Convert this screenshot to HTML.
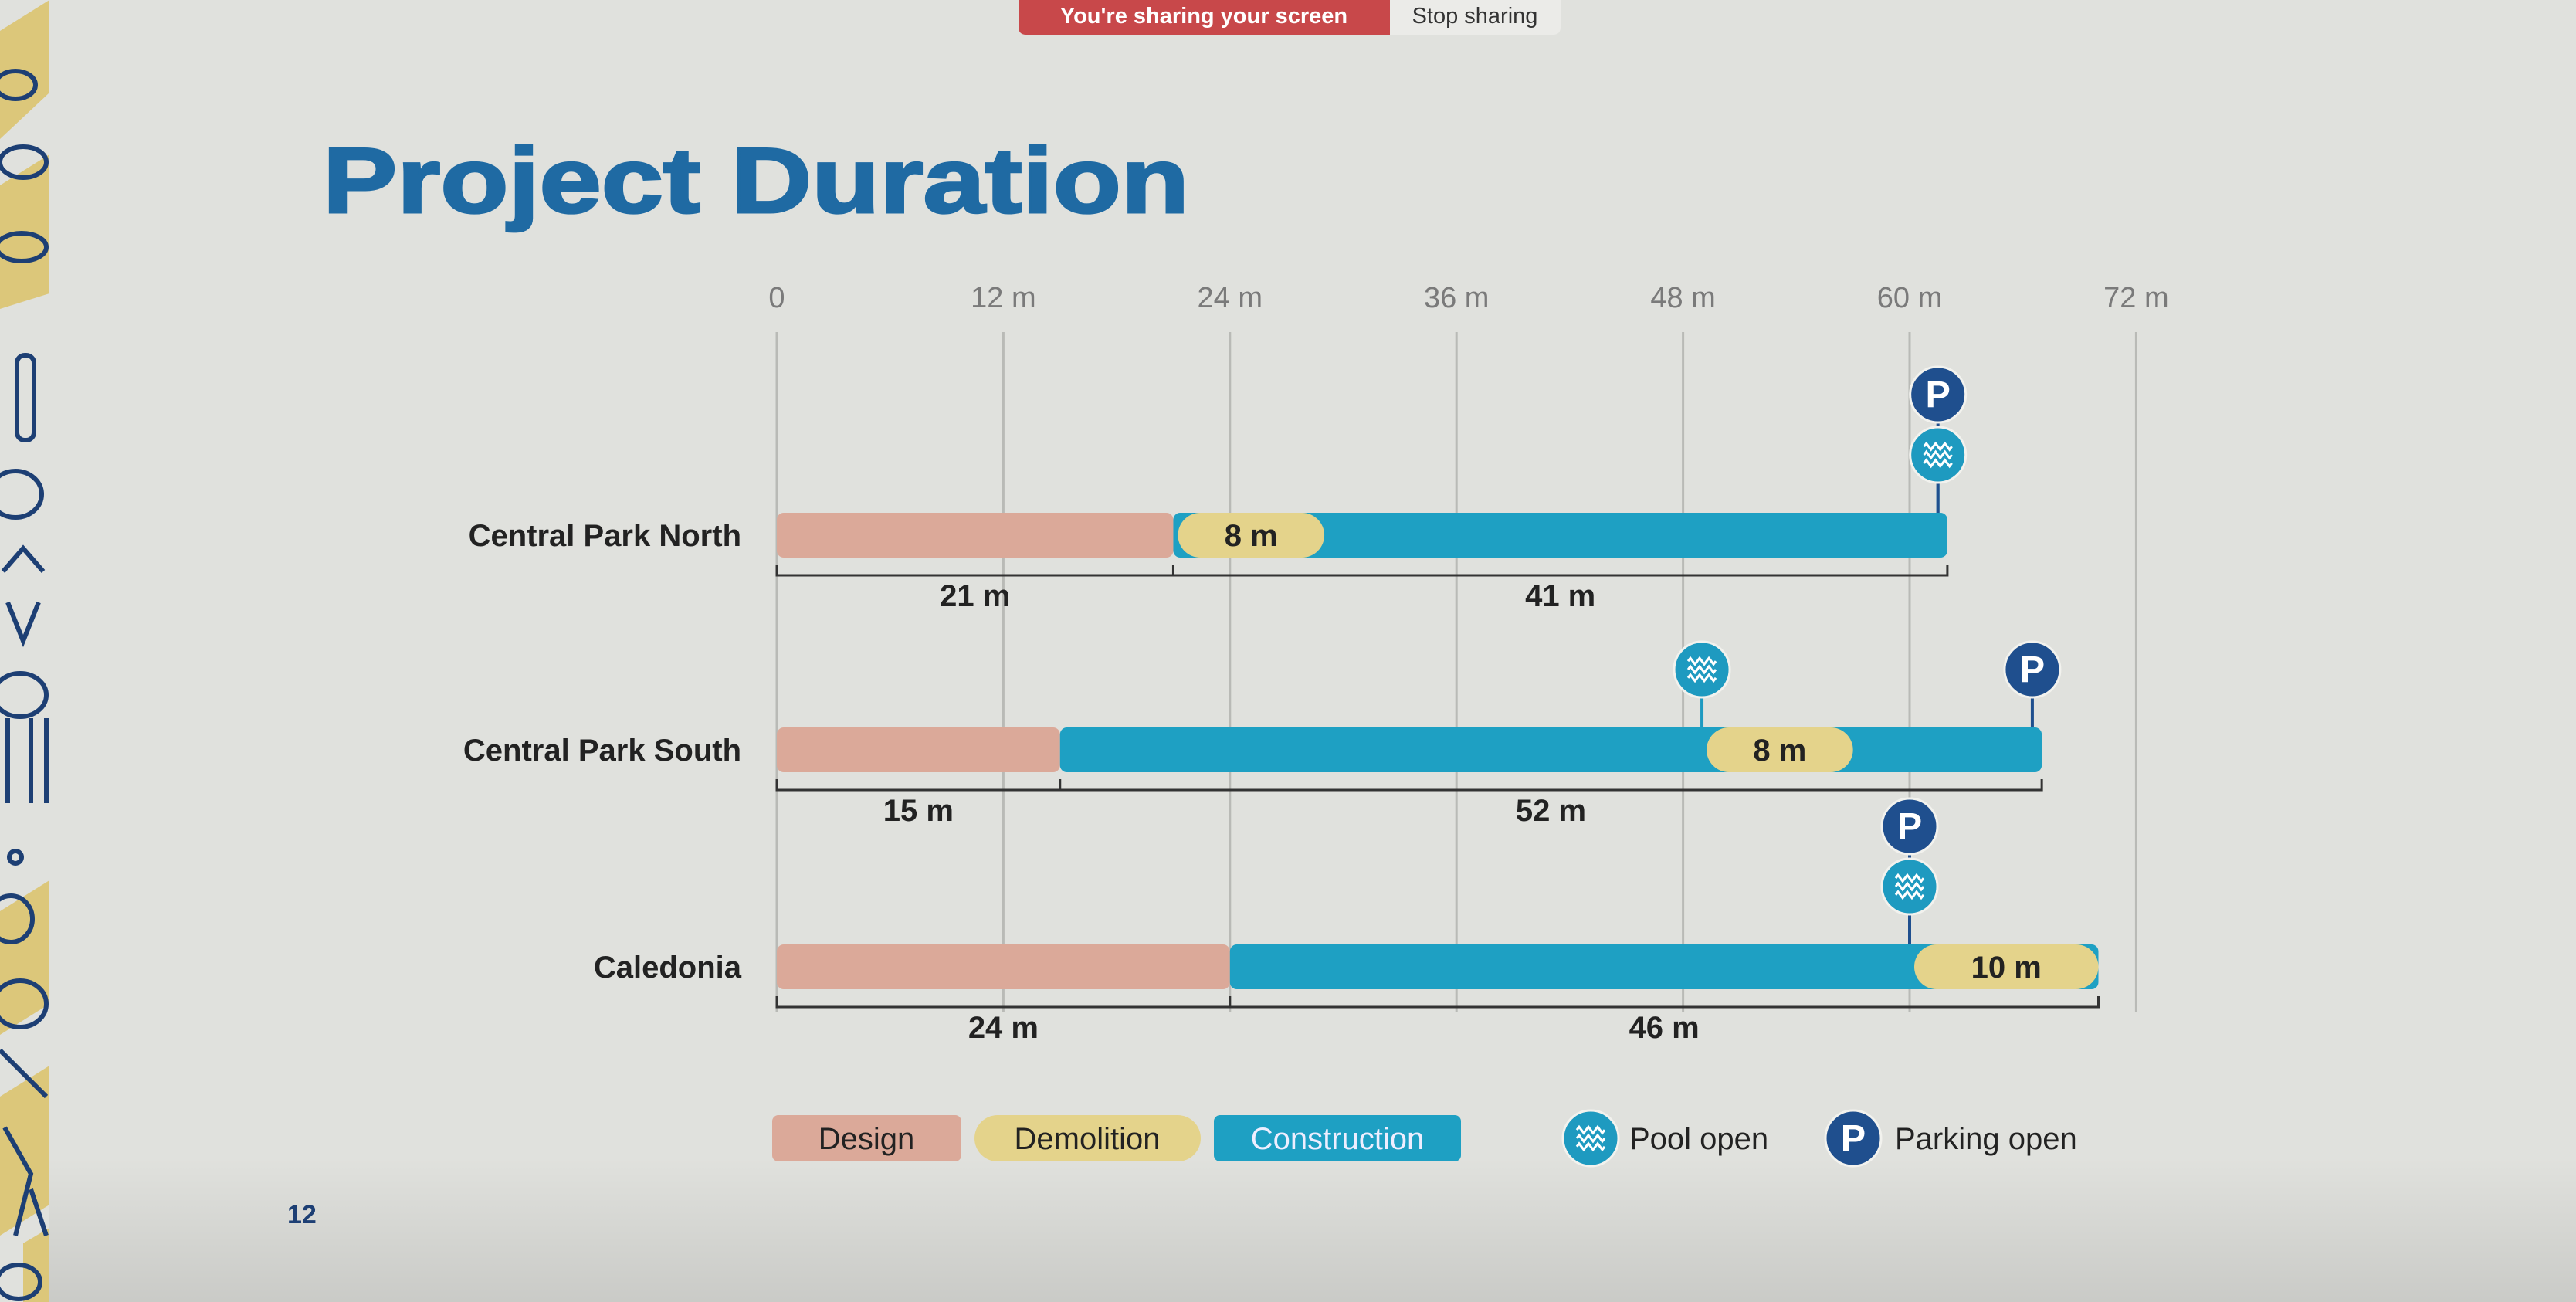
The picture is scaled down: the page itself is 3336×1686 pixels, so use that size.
<!DOCTYPE html>
<html><head><meta charset="utf-8">
<style>
html,body{margin:0;padding:0;}
body{width:3336px;height:1686px;overflow:hidden;background:#e0e1dd;font-family:"Liberation Sans",sans-serif;}
svg{display:block;}
</style></head>
<body>
<svg id="chart" width="3336" height="1686" viewBox="0 0 3336 1686" xmlns="http://www.w3.org/2000/svg">
<defs>
<linearGradient id="vig" x1="0" y1="0" x2="0" y2="1">
<stop offset="0" stop-color="#000" stop-opacity="0"/>
<stop offset="1" stop-color="#000" stop-opacity="0.10"/>
</linearGradient>
</defs>
<rect x="0" y="0" width="3336" height="1686" fill="#e0e1dd"/>
<rect x="0" y="1500" width="3336" height="186" fill="url(#vig)"/>
<g>
<rect x="0" y="0" width="64" height="1686" fill="#e0e1dd"/>
<polygon points="0,40 64,0 64,120 0,180" fill="#dcc77a"/>
<polygon points="0,240 64,200 64,380 0,400" fill="#dcc77a"/>
<polygon points="0,1180 64,1140 64,1300 0,1340" fill="#dcc77a"/>
<polygon points="0,1420 64,1380 64,1560 0,1600" fill="#dcc77a"/>
<polygon points="30,1610 64,1590 64,1686 30,1686" fill="#dcc77a"/>
<g fill="none" stroke="#1d3f74" stroke-width="6">
<ellipse cx="20" cy="110" rx="26" ry="18"/><ellipse cx="30" cy="210" rx="30" ry="20"/><ellipse cx="28" cy="320" rx="32" ry="18"/>
<rect x="22" y="460" width="22" height="110" rx="10"/><ellipse cx="20" cy="640" rx="34" ry="30"/>
<path d="M4 740 L30 710 L56 740 M10 780 L30 830 L50 780"/><ellipse cx="26" cy="900" rx="34" ry="28"/>
<path d="M10 930 L10 1040 M40 930 L40 1040 M60 930 L60 1040"/><circle cx="20" cy="1110" r="8"/>
<ellipse cx="14" cy="1190" rx="28" ry="30"/><ellipse cx="26" cy="1300" rx="34" ry="30"/><path d="M0 1360 L60 1420"/>
<path d="M6 1460 L40 1520 L20 1600 M40 1540 L60 1600"/><ellipse cx="24" cy="1660" rx="28" ry="22"/>
</g>
</g>
<g>
<path d="M1319 0 H1800 V45 H1329 Q1319 45 1319 35 Z" fill="#c8484a"/>
<text x="1559" y="30" font-size="29" fill="#fff" text-anchor="middle" font-weight="bold">You're sharing your screen</text>
<path d="M1800 0 H2021 V35 Q2021 45 2011 45 H1800 Z" fill="#ebebe8"/>
<text x="1910" y="30" font-size="29" fill="#333" text-anchor="middle">Stop sharing</text>
</g>
<text x="418" y="275" font-size="120" font-weight="bold" fill="#1f6aa3" textLength="1122" lengthAdjust="spacingAndGlyphs" stroke="#1f6aa3" stroke-width="3">Project Duration</text>
<text x="372" y="1584" font-size="34" font-weight="bold" fill="#1d3f74">12</text>
<g id="plot"></g>
<g id="legend"></g>
</svg>
<script>
const ticks = [0, 12, 24, 36, 48, 60, 72];
const tickLabels = ["0", "12 m", "24 m", "36 m", "48 m", "60 m", "72 m"];
const projects = ["Central Park North", "Central Park South", "Caledonia"];
const designMonths = [21, 15, 24];
const constructionMonths = [41, 52, 46];
const demolitionStart = [21, 49, 60];
const demolitionMonths = [8, 8, 10];
const poolOpen = [61.5, 49, 60];
const parkingOpen = [61.5, 66.5, 60];

const NS = "http://www.w3.org/2000/svg";
const X0 = 1006, PX = 24.45;
function xs(v){ return X0 + v * PX; }
const rowY = [693, 971, 1252];
const BH = 58;
function el(tag, attrs, parent, text){
  const e = document.createElementNS(NS, tag);
  for (const k in attrs) e.setAttribute(k, attrs[k]);
  if (text !== undefined) e.textContent = text;
  parent.appendChild(e);
  return e;
}
const plot = document.getElementById('plot');
const legend = document.getElementById('legend');

ticks.forEach((t, i) => {
  const g = el('line', {x1: xs(t), x2: xs(t), y1: 430, y2: 1311, stroke: '#b9bab6', 'stroke-width': 3}, plot);
  
  
  const lab = el('text', {x: xs(t), y: 398, 'font-size': 38, fill: '#7a7a7a', 'text-anchor': 'middle'}, plot, tickLabels[i]);
  
  
});

function poolIcon(cx, cy, r, parent){
  const c = el('circle', {cx: cx, cy: cy, r: r, fill: '#1e9ac0', stroke: '#f2f2ee', 'stroke-width': 3}, parent);
  
  
  for (let k = -1; k <= 1; k++) {
    const y = cy + k * r * 0.3;
    let d = 'M' + (cx - r * 0.5) + ' ' + y;
    const w = r / 6;
    for (let j = 0; j < 6; j++) d += ' l' + (w / 2) + ' ' + (j % 2 ? 4 : -4) + ' l' + (w / 2) + ' ' + (j % 2 ? -4 : 4);
    el('path', {d: d, fill: 'none', stroke: '#fff', 'stroke-width': 3}, parent);
  }
}
function parkIcon(cx, cy, r, parent){
  const c = el('circle', {cx: cx, cy: cy, r: r, fill: '#1f4f8e', stroke: '#f2f2ee', 'stroke-width': 3}, parent);
  
  
  const t = el('text', {x: cx, y: cy + r * 0.45, 'font-size': r * 1.35, 'font-weight': 'bold', fill: '#fff', 'text-anchor': 'middle'}, parent, 'P');
  
  
}

projects.forEach((p, i) => {
  const cy = rowY[i], top = cy - BH / 2;
  const dEnd = designMonths[i], cEnd = designMonths[i] + constructionMonths[i];
  const lab = el('text', {x: 960, y: cy + 14, 'font-size': 40, 'font-weight': 'bold', fill: '#222', 'text-anchor': 'end'}, plot, p);
  
  
  const d = el('rect', {x: xs(0), y: top, width: xs(dEnd) - xs(0), height: BH, rx: 9, fill: '#dba999'}, plot);
  
  
  const c = el('rect', {x: xs(dEnd), y: top, width: xs(cEnd) - xs(dEnd), height: BH, rx: 9, fill: '#1ea0c3'}, plot);
  
  
  const ds = demolitionStart[i], de = ds + demolitionMonths[i];
  const m = el('rect', {x: xs(ds) + 6, y: top, width: xs(de) - xs(ds) - 6, height: BH, rx: BH / 2, fill: '#e4d38b'}, plot);
  
  
  const mt = el('text', {x: (xs(ds) + xs(de)) / 2 + 3, y: cy + 14, 'font-size': 40, 'font-weight': 'bold', fill: '#222', 'text-anchor': 'middle'}, plot, demolitionMonths[i] + ' m');
  
  
  // bracket
  const by = cy + 52;
  const bl = el('path', {d: 'M' + xs(0) + ' ' + (by - 14) + ' V' + by + ' H' + xs(cEnd) + ' V' + (by - 14) + ' M' + xs(dEnd) + ' ' + by + ' V' + (by - 14), fill: 'none', stroke: '#333', 'stroke-width': 3}, plot);
  
  
  const l1 = el('text', {x: (xs(0) + xs(dEnd)) / 2, y: by + 40, 'font-size': 40, 'font-weight': 'bold', fill: '#222', 'text-anchor': 'middle'}, plot, designMonths[i] + ' m');
  
  
  const l2 = el('text', {x: (xs(dEnd) + xs(cEnd)) / 2, y: by + 40, 'font-size': 40, 'font-weight': 'bold', fill: '#222', 'text-anchor': 'middle'}, plot, constructionMonths[i] + ' m');
  
  
  // markers
  const same = Math.abs(poolOpen[i] - parkingOpen[i]) < 0.01;
  const poolY = cy - 104, parkY = same ? cy - 182 : cy - 104;
  const s1 = el('line', {x1: xs(poolOpen[i]), x2: xs(poolOpen[i]), y1: top, y2: poolY, stroke: '#1e9ac0', 'stroke-width': 4}, plot);
  
  
  const s2 = el('line', {x1: xs(parkingOpen[i]), x2: xs(parkingOpen[i]), y1: top, y2: parkY, stroke: '#1f4f8e', 'stroke-width': 4}, plot);
  
  
  poolIcon(xs(poolOpen[i]), poolY, 36, plot);
  parkIcon(xs(parkingOpen[i]), parkY, 36, plot);
});

// legend
const ly = 1474;
const r1 = el('rect', {x: 1000, y: ly - 30, width: 245, height: 60, rx: 8, fill: '#dba999'}, legend);


const t1 = el('text', {x: 1122, y: ly + 14, 'font-size': 40, fill: '#222', 'text-anchor': 'middle'}, legend, 'Design');


const r2 = el('rect', {x: 1262, y: ly - 30, width: 293, height: 60, rx: 30, fill: '#e4d38b'}, legend);


const t2 = el('text', {x: 1408, y: ly + 14, 'font-size': 40, fill: '#222', 'text-anchor': 'middle'}, legend, 'Demolition');


const r3 = el('rect', {x: 1572, y: ly - 30, width: 320, height: 60, rx: 8, fill: '#1ea0c3'}, legend);


const t3 = el('text', {x: 1732, y: ly + 14, 'font-size': 40, fill: '#eef', 'text-anchor': 'middle'}, legend, 'Construction');


poolIcon(2060, ly, 36, legend);
const t4 = el('text', {x: 2110, y: ly + 14, 'font-size': 40, fill: '#222'}, legend, 'Pool open');


parkIcon(2400, ly, 36, legend);
const t5 = el('text', {x: 2454, y: ly + 14, 'font-size': 40, fill: '#222'}, legend, 'Parking open');


</script>
</body></html>
